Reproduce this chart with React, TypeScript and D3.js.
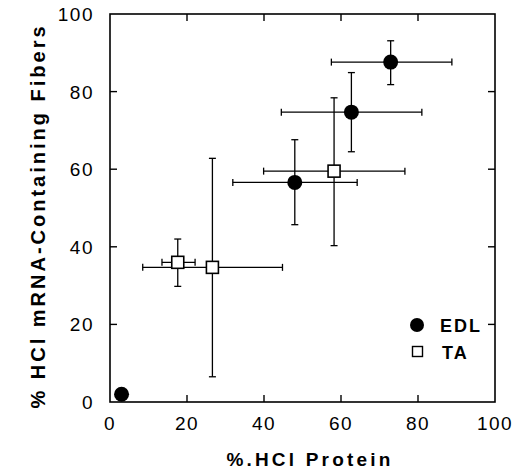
import React from "react";
import * as d3 from "d3";

// EDL series
const edlX = [3, 48, 62.7, 72.9];
const edlY = [2, 56.6, 74.7, 87.6];
const edlXLo = [3, 31.9, 44.5, 57.5];
const edlXHi = [3, 64.2, 81, 88.8];
const edlYLo = [2, 45.7, 64.5, 81.8];
const edlYHi = [2, 67.6, 84.9, 93.1];

// TA series
const taX = [17.6, 26.6, 58.2];
const taY = [36, 34.7, 59.5];
const taXLo = [13.5, 8.5, 39.9];
const taXHi = [22.1, 44.8, 76.6];
const taYLo = [29.8, 6.5, 40.3];
const taYHi = [42, 62.8, 78.4];

const ticks = [0, 20, 40, 60, 80, 100];
const xTitle = "%.HCl Protein";
const yTitle = "% HCl mRNA-Containing Fibers";
const legendLabels = ["EDL", "TA"];

const W = 519;
const H = 472;
const L = 110, R = 495, T = 14, B = 402;

export default function App() {
  const x = d3.scaleLinear().domain([0, 100]).range([L, R]);
  const y = d3.scaleLinear().domain([0, 100]).range([B, T]);
  const font = "'Liberation Sans', Arial, sans-serif";
  const tl = 7;
  const cap = 3.5;

  const errBars = (xs: number[], ys: number[], xlo: number[], xhi: number[], ylo: number[], yhi: number[], key: string) =>
    xs.map((_, i) => (
      <g key={key + i} stroke="#000" strokeWidth={1.3} fill="none">
        {xlo[i] !== xhi[i] && (
          <>
            <line x1={x(xlo[i])} x2={x(xhi[i])} y1={y(ys[i])} y2={y(ys[i])} />
            <line x1={x(xlo[i])} x2={x(xlo[i])} y1={y(ys[i]) - cap} y2={y(ys[i]) + cap} />
            <line x1={x(xhi[i])} x2={x(xhi[i])} y1={y(ys[i]) - cap} y2={y(ys[i]) + cap} />
          </>
        )}
        {ylo[i] !== yhi[i] && (
          <>
            <line x1={x(xs[i])} x2={x(xs[i])} y1={y(ylo[i])} y2={y(yhi[i])} />
            <line x1={x(xs[i]) - cap} x2={x(xs[i]) + cap} y1={y(ylo[i])} y2={y(ylo[i])} />
            <line x1={x(xs[i]) - cap} x2={x(xs[i]) + cap} y1={y(yhi[i])} y2={y(yhi[i])} />
          </>
        )}
      </g>
    ));

  return (
    <svg width={W} height={H} style={{ position: "absolute", left: 0, top: 0, background: "#fff" }}>
      <rect x={0} y={0} width={W} height={H} fill="#fff" />
      {/* frame */}
      <rect x={L} y={T} width={R - L} height={B - T} fill="none" stroke="#000" strokeWidth={1.6} />
      {/* ticks */}
      {ticks.slice(1, -1).map((t) => (
        <g key={"t" + t} stroke="#000" strokeWidth={1.4}>
          <line x1={x(t)} x2={x(t)} y1={B} y2={B - tl} />
          <line x1={x(t)} x2={x(t)} y1={T} y2={T + tl} />
          <line x1={L} x2={L + tl} y1={y(t)} y2={y(t)} />
          <line x1={R} x2={R - tl} y1={y(t)} y2={y(t)} />
        </g>
      ))}
      {/* tick labels */}
      {ticks.map((t) => (
        <text key={"xl" + t} x={x(t)} y={430} textAnchor="middle" fontFamily={font} fontSize={19} letterSpacing={1.5} fill="#000">
          {t}
        </text>
      ))}
      {ticks.map((t) => (
        <text key={"yl" + t} x={94} y={y(t) + 7} textAnchor="end" fontFamily={font} fontSize={19} letterSpacing={1.5} fill="#000">
          {t}
        </text>
      ))}
      {/* axis titles */}
      <text x={310} y={466} textAnchor="middle" fontFamily={font} fontSize={19} fontWeight="bold" letterSpacing={3.2} fill="#000">
        {xTitle}
      </text>
      <text
        transform={`translate(45,${(T + B) / 2 + 8}) rotate(-90)`}
        textAnchor="middle"
        fontFamily={font}
        fontSize={20}
        fontWeight="bold"
        letterSpacing={3}
        fill="#000"
      >
        {yTitle}
      </text>
      {/* error bars */}
      {errBars(edlX, edlY, edlXLo, edlXHi, edlYLo, edlYHi, "e")}
      {errBars(taX, taY, taXLo, taXHi, taYLo, taYHi, "a")}
      {/* markers */}
      {edlX.map((v, i) => (
        <circle key={"ec" + i} cx={x(v)} cy={y(edlY[i])} r={7.5} fill="#000" />
      ))}
      {taX.map((v, i) => (
        <rect key={"ar" + i} x={x(v) - 6} y={y(taY[i]) - 6} width={12} height={12} fill="#fff" stroke="#000" strokeWidth={1.6} />
      ))}
      {/* legend */}
      <circle cx={417} cy={325} r={7} fill="#000" />
      <rect x={412.5} y={346.5} width={10} height={10} fill="#fff" stroke="#000" strokeWidth={1.4} />
      <text x={440} y={331.5} fontFamily={font} fontSize={18} fontWeight="bold" letterSpacing={2} fill="#000">
        {legendLabels[0]}
      </text>
      <text x={442} y={358.5} fontFamily={font} fontSize={18} fontWeight="bold" letterSpacing={2} fill="#000">
        {legendLabels[1]}
      </text>
    </svg>
  );
}
